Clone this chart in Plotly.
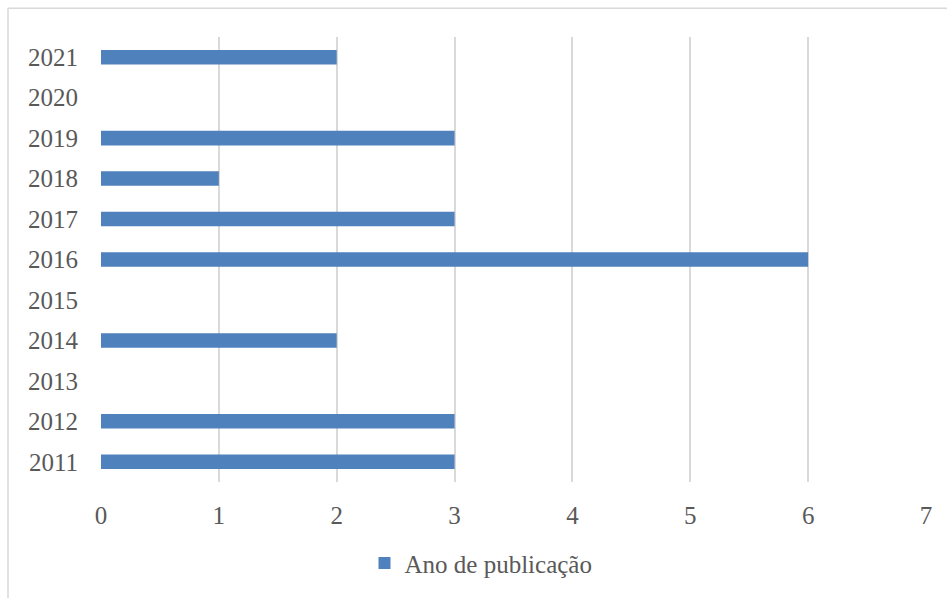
import plotly.graph_objects as go

years = ["2011", "2012", "2013", "2014", "2015", "2016", "2017", "2018", "2019", "2020", "2021"]
counts = [3, 3, 0, 2, 0, 6, 3, 1, 3, 0, 2]
x_ticks = [0, 1, 2, 3, 4, 5, 6, 7]
series_name = "Ano de publicação"

FONT = "Liberation Serif"
TXT = "#595959"
GRID = "#D9D9D9"

fig = go.Figure()
fig.add_trace(go.Bar(
    y=years, x=counts, orientation="h", name=series_name,
    marker=dict(color="#4F81BD", line=dict(width=0)),
    width=0.36, showlegend=True,
))

W, H = 947, 598
ml, mr, mt, mb = 101, 21, 37, 112
pw = W - ml - mr
ph = H - mt - mb

def px_to_paper_x(px):
    return (px - ml) / pw

def px_to_paper_y(py):
    return (H - mb - py) / ph

fig.update_layout(
    width=W, height=H,
    margin=dict(l=ml, r=mr, t=mt, b=mb),
    paper_bgcolor="white", plot_bgcolor="white",
    font=dict(family=FONT, size=25, color=TXT),
    xaxis=dict(
        range=[0, 7], tickvals=x_ticks, showgrid=True, gridcolor=GRID, gridwidth=1.5,
        zeroline=False, showline=False, ticks="", ticklabelstandoff=16,
        tickfont=dict(family=FONT, size=25, color=TXT), fixedrange=True,
    ),
    yaxis=dict(
        type="category", categoryorder="array", categoryarray=years,
        showgrid=False, zeroline=False, showline=False, ticks="",
        ticklabelstandoff=22, tickfont=dict(family=FONT, size=25, color=TXT),
    ),
    legend=dict(
        orientation="h", x=px_to_paper_x(481), xanchor="center",
        y=px_to_paper_y(568), yanchor="middle",
        font=dict(family=FONT, size=25, color=TXT), itemwidth=30,
        bgcolor="rgba(0,0,0,0)",
    ),
    shapes=[
        dict(type="line", xref="paper", yref="paper",
             x0=px_to_paper_x(8), x1=px_to_paper_x(960),
             y0=px_to_paper_y(8), y1=px_to_paper_y(8),
             line=dict(color=GRID, width=1.5)),
        dict(type="line", xref="paper", yref="paper",
             x0=px_to_paper_x(8), x1=px_to_paper_x(8),
             y0=px_to_paper_y(8), y1=px_to_paper_y(620),
             line=dict(color=GRID, width=1.5)),
    ],
    bargap=0.64,
)

fig.write_html("out.html")
